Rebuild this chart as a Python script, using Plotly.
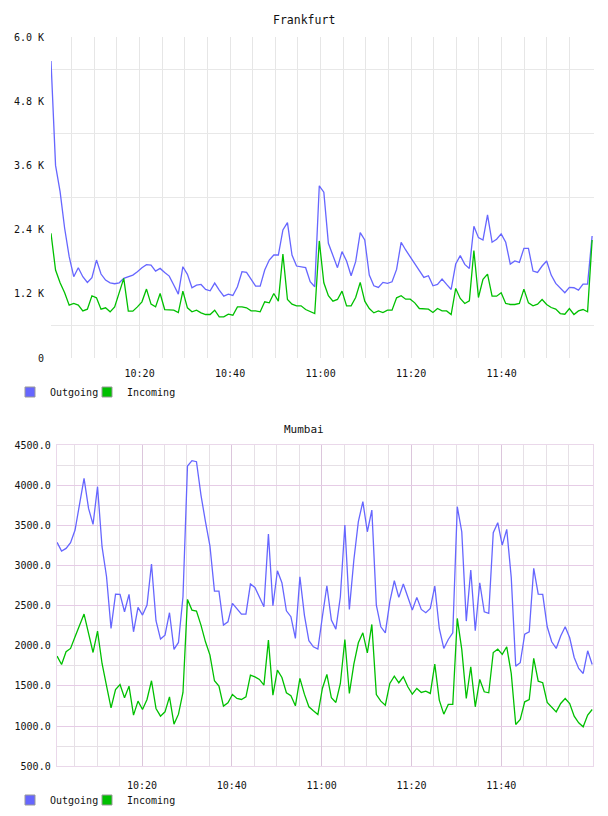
import pandas as pd
import plotly.graph_objects as go

# ---------------- data ----------------
fra_out = [5550, 3600, 3110, 2425,
           1894, 1519, 1688, 1519, 1413, 1500, 1831, 1569, 1456, 1406,
           1388, 1406, 1488, 1519, 1550, 1613, 1688, 1744, 1738, 1625,
           1675, 1600, 1531, 1363, 1194, 1706, 1563, 1313, 1363, 1375,
           1281, 1256, 1400, 1269, 1156, 1194, 1169, 1331, 1613, 1600,
           1469, 1344, 1344, 1644, 1831, 1925, 1925, 2394, 2531, 1925,
           1719, 1706, 1688, 1425, 1331,
           3219, 3100, 2144, 1894, 1688, 1988, 1813, 1538, 1800, 2344, 2206,
           1550, 1350, 1319, 1413, 1394, 1425, 1656, 2163, 2019, 1894,
           1769, 1644, 1506, 1538, 1350, 1375, 1475, 1375, 1281, 1756,
           1913, 1750, 1675, 2463, 2250, 2206, 2675, 2163, 2219, 2319,
           2163, 1756, 1813, 1788, 2050, 2050, 1625, 1600, 1719, 1813,
           1550, 1394, 1300, 1219, 1319, 1313, 1269, 1381, 1381, 2281]

fra_in = [2331, 1644, 1406, 1219, 988, 1019, 988, 881, 913, 1163,
          1125, 913, 938, 863, 956, 1206, 1488, 875, 875, 956,
          1050, 1288, 1006, 956, 1206, 906, 900, 894, 850, 1250,
          938, 863, 894, 844, 813, 813, 894, 769, 769, 819,
          800, 956, 956, 938, 881, 881, 863, 1050, 1031, 1206,
          1063, 1944, 1094, 1006, 975, 975, 906, 875, 831,
          2188, 1406, 1163, 1063, 1094, 1250, 975, 975, 1131, 1413, 1063,
          925, 844, 881, 850, 894, 894, 1125, 1163, 1100, 1100,
          1031, 925, 925, 913, 850, 925, 881, 881, 813, 1300,
          1113, 1019, 1069, 2006, 1131, 1469, 1569, 1156, 1156, 1219,
          1019, 1000, 1000, 1019, 1288, 1031, 975, 1006, 1094, 1000,
          944, 913, 831, 819, 925, 813, 881, 906, 863, 2206]

mum_out = [3288, 3180, 3213, 3283, 3441, 3773, 4085, 3711, 3512, 3981,
           3234, 2860, 2216, 2644, 2640, 2424, 2640, 2175, 2478, 2383,
           2507, 3018, 2312, 2084, 2133, 2412, 1955, 2042, 2611, 4238,
           4305, 4292, 3877, 3545, 3242, 2681, 2681, 2258, 2299, 2528,
           2457, 2395, 2395, 2769, 2727, 2603, 2486, 3391, 2499, 2935,
           2785, 2436, 2362, 2092, 2860, 2383, 2063, 1988, 1959,
           2362, 2748, 2320, 2208, 2611, 3504, 2453, 3068, 3545, 3794,
           3420, 3690, 2507, 2237, 2162, 2549, 2810, 2603, 2769, 2619,
           2445, 2603, 2453, 2412, 2466, 2744, 2216, 1967, 2079, 2162,
           3732, 3420, 2308, 2943, 2187, 2785, 2424, 2403, 3408, 3533,
           3254, 3450, 2852, 1747, 1789, 2146, 2175, 2964, 2644, 2640,
           2237, 2050, 1967, 2121, 2237, 2100, 1855, 1718, 1656, 1938, 1768]

mum_in = [1872, 1768, 1926, 1967, 2113, 2266, 2395, 2154, 1917, 2183,
          1780, 1502, 1228, 1456, 1519, 1353, 1498, 1137, 1311, 1207,
          1332, 1565, 1220, 1124, 1178, 1365, 1025, 1149, 1419, 2578,
          2445, 2432, 2258, 2050, 1884, 1565, 1498, 1249, 1291, 1394,
          1344, 1332, 1365, 1635, 1614, 1581, 1510, 2071, 1386, 1697,
          1606, 1415, 1378, 1253, 1594, 1398, 1241, 1191, 1145,
          1469, 1643, 1353, 1295, 1531, 2079, 1407, 1772, 2038, 2162,
          1913, 2266, 1394, 1311, 1261, 1531, 1623, 1540, 1614, 1490,
          1398, 1469, 1419, 1436, 1407, 1772, 1324, 1149, 1270, 1270,
          2341, 1955, 1344, 1739, 1241, 1581, 1428, 1415, 1917, 1959,
          1893, 1988, 1656, 1021, 1083, 1303, 1332, 1843, 1560, 1540,
          1295, 1241, 1178, 1282, 1344, 1282, 1124, 1041, 992, 1137, 1207]

fra_ticks = [0, 1200, 2400, 3600, 4800, 6000]
fra_ticktext = ["0", "1.2 K", "2.4 K", "3.6 K", "4.8 K", "6.0 K"]
fra_minor = [600, 1800, 3000, 4200, 5400]
mum_ticks = [500, 1000, 1500, 2000, 2500, 3000, 3500, 4000, 4500]
series_names = ["Outgoing", "Incoming"]
DAY = "2024-05-14 "

fra_time = pd.date_range(DAY + "10:00:25", DAY + "12:00:00", periods=len(fra_out))
mum_time = pd.date_range(DAY + "10:01:05", DAY + "12:00:15", periods=len(mum_out))
x_labels = pd.date_range(DAY + "10:20", DAY + "11:40", freq="20min")
x_minor = pd.date_range(DAY + "10:05", DAY + "11:55", freq="5min")

BLUE = "#6666ff"
GREEN = "#00c000"
MONO = "DejaVu Sans Mono"
W, H = 608, 816

fig = go.Figure()

# data traces
for t, ys, col, xa, ya in [(fra_time, fra_out, BLUE, "x", "y"),
                           (fra_time, fra_in, GREEN, "x", "y"),
                           (mum_time, mum_out, BLUE, "x2", "y2"),
                           (mum_time, mum_in, GREEN, "x2", "y2")]:
    fig.add_trace(go.Scatter(x=t, y=ys, mode="lines", xaxis=xa, yaxis=ya,
                             line=dict(color=col, width=1.3),
                             showlegend=False, hoverinfo="skip"))

# legend-only swatches, one legend per entry
legend_ids = [("legend", "legend2"), ("legend3", "legend4")]
for (lg_out, lg_in), xa, ya in zip(legend_ids, ["x", "x2"], ["y", "y2"]):
    for name, col, lg in zip(series_names, [BLUE, GREEN], [lg_out, lg_in]):
        fig.add_trace(go.Scatter(x=[None], y=[None], mode="markers", name=name,
                                 xaxis=xa, yaxis=ya,
                                 marker=dict(symbol="square", size=10, color=col,
                                             line=dict(color="#999999", width=1)),
                                 legend=lg, showlegend=True))

def px_x(p):
    return p / W

def px_y(p):
    return 1 - p / H

TICKFONT = dict(family=MONO, size=10, color="#111")

xcommon = dict(type="date", tickformat="%H:%M", tickmode="array", tickvals=x_labels,
               ticks="outside", tickcolor="rgba(0,0,0,0)",
               tickfont=TICKFONT, zeroline=False, automargin=False)

legend_common = dict(orientation="h", xanchor="left", yanchor="middle",
                     bgcolor="rgba(0,0,0,0)", font=TICKFONT,
                     itemwidth=30, tracegroupgap=0)

fig.update_layout(
    template="plotly",
    width=W, height=H,
    margin=dict(l=0, r=0, t=0, b=0),
    paper_bgcolor="white", plot_bgcolor="white",
    font=dict(family=MONO, size=10, color="#111"),
    xaxis=dict(domain=[px_x(51), px_x(594)], anchor="y",
               range=[DAY + "10:00:25", DAY + "12:00:25"],
               showgrid=True, gridcolor="#e6e6e6", gridwidth=1,
               showline=False, ticklen=6,
               minor=dict(tickmode="array", tickvals=x_minor, showgrid=True,
                          gridcolor="#e6e6e6", gridwidth=1, ticks=""),
               **xcommon),
    yaxis=dict(domain=[px_y(358), px_y(37)], anchor="x", range=[0, 6000],
               tickmode="array", tickvals=fra_ticks, ticktext=fra_ticktext,
               showgrid=False, zeroline=False, showline=False, automargin=False,
               ticks="outside", ticklen=4, tickcolor="rgba(0,0,0,0)",
               tickfont=TICKFONT,
               minor=dict(tickmode="array", tickvals=fra_minor, showgrid=True,
                          gridcolor="#e8e8e8", gridwidth=1, ticks="")),
    xaxis2=dict(domain=[px_x(56.7), px_x(593.3)], anchor="y2",
                range=[DAY + "10:01:00", DAY + "12:00:30"],
                showgrid=True, gridcolor="#dcc6dc", gridwidth=1, ticklen=10,
                minor=dict(tickmode="array", tickvals=x_minor, showgrid=True,
                           gridcolor="#e6e0e6", gridwidth=1, ticks=""),
                showline=True, mirror=True, linecolor="#ead8ea", linewidth=1,
                **xcommon),
    yaxis2=dict(domain=[px_y(766.3), px_y(445)], anchor="x2", range=[500, 4500],
                tickmode="array", tickvals=mum_ticks, tickformat=".1f",
                showgrid=True, gridcolor="#e6cce6", gridwidth=1,
                zeroline=False, showline=True, mirror=True, automargin=False,
                linecolor="#ead8ea", linewidth=1,
                ticks="outside", ticklen=3, tickcolor="rgba(0,0,0,0)",
                tickfont=TICKFONT,
                minor=dict(dtick=250, tick0=500, showgrid=True,
                           gridcolor="#e6e0e6", gridwidth=1, ticks="")),
    legend=dict(x=px_x(10), y=px_y(392), **legend_common),
    legend2=dict(x=px_x(87), y=px_y(392), **legend_common),
    legend3=dict(x=px_x(10), y=px_y(800), **legend_common),
    legend4=dict(x=px_x(87), y=px_y(800), **legend_common),
    annotations=[
        dict(text="Frankfurt", x=0.5, y=px_y(20), xref="paper", yref="paper",
             showarrow=False, xanchor="center", yanchor="middle",
             font=dict(family=MONO, size=11.5, color="#111")),
        dict(text="Mumbai", x=0.5, y=px_y(429), xref="paper", yref="paper",
             showarrow=False, xanchor="center", yanchor="middle",
             font=dict(family=MONO, size=11, color="#111")),
    ],
)

fig.write_html("out.html")
